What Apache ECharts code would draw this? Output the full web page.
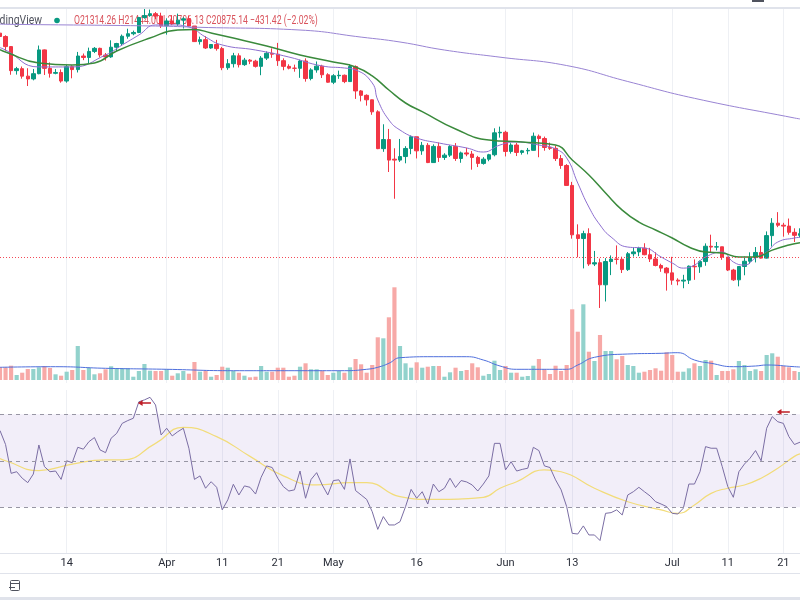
<!DOCTYPE html>
<html>
<head>
<meta charset="utf-8">
<title>BTC daily</title>
<script src="https://cdn.jsdelivr.net/npm/echarts/dist/echarts.min.js"></script>
<style>
  html, body { margin: 0; padding: 0; background: #fff; }
  #chart { width: 800px; height: 600px; }
</style>
</head>
<body>
<div id="chart"></div>
<script>
  // daily candles, 2 Mar 2022 .. 24 Jul 2022
  const firstDay = [2022, 2, 2];

  const opens = [
    44420, 43920, 42450, 39140, 39400, 38420, 38060, 38740, 41980, 39440, 38790, 38900, 37790, 39670, 39280, 41120, 40920, 41760, 42200, 41260, 41000, 42360, 42890, 43960, 44330, 44520, 46820, 47130, 47430, 47060,
    45540, 46280, 45810, 46410, 46620, 45500, 43170, 43450, 42250, 42750, 42160, 39530, 40070, 41150, 39940, 40550, 40410, 39710, 40830, 41500, 41370, 40480, 39710, 39470, 39450, 40430, 38110, 39240, 39740, 38600,
    37640, 38470, 38530, 37720, 39690, 36550, 36010, 35470, 34060, 30080, 31020, 29030, 28940, 29290, 30100, 31310, 29860, 30420, 28700, 30310, 29200, 29430, 30300, 29100, 29650, 29540, 29200, 28620, 29030, 29470, 31730,
    31790, 29800, 30450, 29700, 29860, 29910, 31370, 31130, 30200, 30110, 29090, 28420, 26570, 22490, 22210, 22580, 20380, 20470, 19000, 20550, 20720, 20710, 20000, 21100, 21230, 21500, 21030, 20730, 20280, 20100,
    19780, 19300, 19240, 19300, 20230, 20190, 20550, 21640, 21580, 21600, 20860, 19970, 19320, 20210, 20570, 20830, 21190, 20790, 22430, 23390, 23230, 23160, 22680, 22450
  ];
  const highs = [
    45380, 44100, 42520, 39640, 39690, 39460, 39360, 42600, 42040, 40240, 39360, 39300, 39900, 39860, 41690, 41470, 42300, 42380, 42290, 41540, 43360, 42990, 44210, 45090, 44800, 46930, 48190, 48100, 47700, 47590,
    46700, 47200, 47440, 46880, 47150, 45500, 43900, 43960, 42800, 43420, 42410, 40690, 41560, 41500, 40860, 40700, 40600, 41110, 41760, 42190, 42980, 40800, 39990, 39940, 40620, 40800, 39460, 40370, 39920, 38800,
    38680, 39140, 38630, 40000, 39840, 36650, 36130, 35500, 34240, 32660, 32150, 30120, 31080, 30330, 31450, 31310, 30770, 30650, 30520, 30710, 29620, 30440, 30650, 29780, 30170, 29850, 29360, 29230, 29560, 32220, 32400,
    31950, 30640, 30670, 29950, 30150, 31760, 31550, 31330, 30700, 30390, 29440, 28550, 26890, 23300, 22800, 22990, 21300, 20760, 20790, 20980, 21700, 20890, 21220, 21520, 21600, 21860, 21520, 21200, 20400, 20170,
    20880, 19420, 19650, 20280, 20700, 20630, 21850, 22500, 21950, 21600, 20870, 20050, 20230, 20890, 21200, 21580, 21660, 22750, 23790, 24280, 23420, 23760, 22990, 22990
  ];
  const lows = [
    43330, 41860, 38600, 38620, 38090, 37160, 37880, 38660, 38570, 38230, 38660, 37580, 37580, 38140, 38900, 40550, 40150, 41530, 40920, 40500, 40870, 41790, 42560, 43590, 44100, 44420, 46640, 46950, 46560, 45200,
    44200, 45640, 45530, 45120, 45360, 43120, 42740, 42110, 42130, 41870, 39200, 39250, 39560, 39560, 39770, 40010, 39550, 38540, 40570, 40870, 39770, 39190, 39310, 39000, 38200, 37710, 37880, 38870, 38180, 37580,
    37400, 38070, 37520, 37670, 35580, 35280, 34780, 33720, 30030, 29760, 27800, 25400, 28760, 28630, 29520, 29100, 29460, 28650, 28680, 28760, 28960, 29250, 28860, 28680, 29320, 28020, 28270, 28500, 28830, 29310, 31220,
    29300, 29580, 29340, 29480, 29510, 29880, 29220, 29870, 29950, 28850, 28100, 26560, 22200, 20850, 20080, 20250, 20240, 17570, 17960, 19630, 20350, 19770, 19910, 20900, 20930, 20990, 20520, 20220, 19850, 18630,
    19000, 18970, 18780, 19050, 19320, 19780, 20260, 21200, 21330, 20670, 19900, 19250, 18900, 19620, 20390, 20490, 20760, 20760, 21620, 23080, 22350, 22500, 21950, 22290
  ];
  const closes = [
    43920, 42450, 39140, 39400, 38420, 38060, 38740, 41980, 39440, 38790, 38900, 37790, 39670, 39280, 41120, 40920, 41760, 42200, 41260, 41000, 42360, 42890, 43960, 44330, 44520, 46820, 47130, 47430, 47060, 45540,
    46280, 45810, 46410, 46620, 45500, 43170, 43450, 42250, 42750, 42160, 39530, 40070, 41150, 39940, 40550, 40410, 39710, 40830, 41500, 41370, 40480, 39710, 39470, 39450, 40430, 38110, 39240, 39740, 38600, 37640,
    38470, 38530, 37720, 39690, 36550, 36010, 35470, 34060, 30080, 31020, 28940, 28940, 29290, 30100, 31310, 29860, 30420, 28700, 30310, 29200, 29430, 30300, 29100, 29650, 29540, 29200, 28620, 29030, 29470, 31730, 31790,
    29800, 30450, 29700, 29860, 29910, 31370, 31130, 30200, 30110, 29090, 28420, 26570, 22490, 22210, 22580, 20380, 20470, 19000, 20550, 20720, 20710, 20000, 21100, 21230, 21500, 21030, 20730, 20280, 20100, 19780,
    19300, 19240, 19300, 20230, 20190, 20550, 21640, 21580, 21600, 20860, 19970, 19320, 20210, 20570, 20830, 21190, 20790, 22430, 23390, 23230, 23160, 22680, 22450, 22580
  ];
  const volumes = [
    13, 12.7, 14.3, 5, 7.3, 11, 11, 12.7, 14, 12, 5.7, 4.3, 8.3, 10, 34, 10, 12.3, 5.7, 6.7, 10.7, 13.7, 12, 12, 11.7, 3.3, 9, 16, 9.3, 9, 9,
    10.7, 4.3, 6.7, 9, 6.3, 18, 8.3, 9.3, 3.3, 5, 13.3, 12.3, 9, 7.3, 4.3, 2.7, 3.3, 14, 8.3, 8.3, 12.3, 12.3, 3.3, 4.3, 13.3, 16.7, 10.7, 10.7, 9.3, 5,
    7.3, 9, 7.3, 12.7, 21, 15.7, 7.3, 15, 42.7, 41.7, 62.7, 92.7, 34, 16.7, 12.3, 17.7, 12.3, 13.3, 14, 14, 3.3, 7.7, 12.3, 9, 10, 16.7, 12.7, 4.3, 6, 19.3, 10,
    14, 7.3, 7.3, 3.3, 4, 14.3, 21, 10.7, 6, 14.3, 9, 15, 70.7, 48.3, 75.7, 28.3, 19, 45, 29, 29, 20.7, 24, 15, 14, 7.3, 8.3, 10, 11.7, 9.3, 27.7,
    25, 8.3, 8.3, 11.7, 16.7, 14, 20, 19.3, 5, 9, 9, 10.7, 19, 15, 9, 10.7, 9, 25, 26.7, 23.3, 14, 12.7, 9, 8
  ];
  const rsi = [
    63, 57, 44.6, 45.3, 42.5, 40.6, 44.3, 56.8, 47.5, 45.3, 45.6, 42, 50, 49.2, 55.8, 55, 58.2, 60, 54.7, 53.5, 59.7, 61.8, 66.1, 67.3, 68.3, 75.4, 76.2, 77.3, 74, 61.1,
    64, 60.7, 62.5, 64, 55.4, 42, 43.5, 38.2, 41, 38.6, 28.9, 33.2, 39.9, 35.3, 39.2, 38.6, 35.7, 42.9, 47.8, 47.1, 42.5, 38.9, 37, 37.5, 45.6, 33.9, 42, 44.9, 39.6, 35.3,
    41.5, 41.8, 37.7, 50.8, 37.2, 35.3, 33.4, 28.1, 20.5, 26, 22.4, 22.4, 23.8, 30.3, 37.7, 33.9, 36.7, 31.4, 40, 36.7, 38.2, 42.5, 38.5, 41.5, 40.9, 39.6, 37, 40, 43.5, 57.5, 57.5,
    46.1, 49.6, 45.6, 46.3, 46.8, 55.8, 54.4, 47.8, 47.1, 41.8, 37.5, 30.3, 18.8, 18.5, 22, 18.1, 18.1, 15.7, 27.4, 27.7, 28.9, 26.7, 35.3, 36.7, 38.6, 36.7, 34.9, 32.4, 31.4, 30.3,
    27.4, 27.1, 29.6, 40, 40, 45.3, 56.1, 55.4, 55.4, 47.5, 38.9, 34.3, 45.3, 48.6, 51.1, 54.4, 50, 64, 69, 66.8, 66.1, 60.4, 57, 58
  ];

  // indicator lines at a few dates
  const maFast = [
    ['2022-03-02', 42300], ['2022-03-03', 41960], ['2022-03-09', 39630], ['2022-03-15', 39630], ['2022-03-21', 41260],
    ['2022-03-24', 42680], ['2022-03-27', 44140], ['2022-03-30', 45660], ['2022-04-02', 45660], ['2022-04-05', 45350],
    ['2022-04-08', 43840], ['2022-04-11', 42680], ['2022-04-17', 41960], ['2022-04-23', 40980], ['2022-04-29', 39760],
    ['2022-05-03', 39490], ['2022-05-05', 39230], ['2022-05-08', 37550], ['2022-05-09', 35450], ['2022-05-11', 33140],
    ['2022-05-13', 32030], ['2022-05-16', 31180], ['2022-05-20', 30660], ['2022-05-25', 30150], ['2022-05-28', 29740],
    ['2022-05-31', 30450], ['2022-06-03', 30760], ['2022-06-07', 30450], ['2022-06-10', 30050], ['2022-06-12', 29150],
    ['2022-06-14', 26780], ['2022-06-16', 24700], ['2022-06-18', 23250], ['2022-06-20', 22320], ['2022-06-23', 21580],
    ['2022-06-26', 21510], ['2022-06-29', 20870], ['2022-07-01', 20450], ['2022-07-03', 20100], ['2022-07-05', 20310],
    ['2022-07-07', 20870], ['2022-07-10', 21220], ['2022-07-12', 20520], ['2022-07-14', 20310], ['2022-07-16', 20800],
    ['2022-07-18', 21220], ['2022-07-20', 21950], ['2022-07-23', 22250], ['2022-07-24', 22300]
  ];
  const maSlow = [
    ['2022-03-02', 42000], ['2022-03-03', 41680], ['2022-03-09', 40160], ['2022-03-15', 39890], ['2022-03-19', 40160],
    ['2022-03-23', 41820], ['2022-03-29', 43690], ['2022-04-03', 44900], ['2022-04-06', 44970], ['2022-04-09', 44440],
    ['2022-04-13', 43690], ['2022-04-19', 42530], ['2022-04-25', 41260], ['2022-05-01', 40300], ['2022-05-05', 39630],
    ['2022-05-08', 38450], ['2022-05-11', 36660], ['2022-05-14', 35090], ['2022-05-17', 34080], ['2022-05-23', 32140],
    ['2022-05-29', 30970], ['2022-06-04', 30760], ['2022-06-10', 30450], ['2022-06-13', 28950], ['2022-06-16', 27520],
    ['2022-06-19', 25900], ['2022-06-22', 24450], ['2022-06-25', 23480], ['2022-06-28', 22860], ['2022-07-01', 22250],
    ['2022-07-04', 21580], ['2022-07-07', 21220], ['2022-07-10', 21150], ['2022-07-13', 20870], ['2022-07-16', 20870],
    ['2022-07-19', 21360], ['2022-07-22', 21730], ['2022-07-24', 21900]
  ];
  const ma200 = [
    ['2022-03-02', 45800], ['2022-03-03', 45770], ['2022-03-30', 45500], ['2022-04-07', 45300], ['2022-04-25', 44890],
    ['2022-05-06', 43830], ['2022-05-13', 43110], ['2022-05-21', 41960], ['2022-05-31', 40960], ['2022-06-12', 39820],
    ['2022-06-23', 37730], ['2022-07-05', 35650], ['2022-07-23', 33360], ['2022-07-24', 33250]
  ];
  const volMa = [
    ['2022-03-02', 12.7], ['2022-03-12', 13.3], ['2022-03-21', 11.7], ['2022-04-01', 10.7], ['2022-04-13', 9.3],
    ['2022-04-25', 9.3], ['2022-05-03', 9.3], ['2022-05-07', 10.7], ['2022-05-09', 12.7], ['2022-05-11', 16.7],
    ['2022-05-13', 22.3], ['2022-05-19', 23.3], ['2022-05-25', 23.3], ['2022-05-28', 20], ['2022-05-31', 14],
    ['2022-06-03', 10.7], ['2022-06-12', 10.7], ['2022-06-14', 15], ['2022-06-17', 22.7], ['2022-06-23', 26],
    ['2022-06-29', 26.7], ['2022-07-02', 27.3], ['2022-07-05', 20], ['2022-07-08', 16.7], ['2022-07-12', 13.3],
    ['2022-07-16', 14], ['2022-07-18', 15], ['2022-07-23', 13.3], ['2022-07-24', 13]
  ];
  const rsiMa = [
    ['2022-03-02', 51], ['2022-03-03', 50], ['2022-03-09', 45.8], ['2022-03-15', 48.6], ['2022-03-21', 50.4],
    ['2022-03-24', 50.4], ['2022-03-30', 57.5], ['2022-04-04', 64.4], ['2022-04-10', 60.4], ['2022-04-16', 51.9],
    ['2022-04-22', 43.5], ['2022-04-28', 39.6], ['2022-05-04', 40.6], ['2022-05-07', 40.6], ['2022-05-13', 34.6],
    ['2022-05-19', 33.4], ['2022-05-28', 34.3], ['2022-05-31', 38.2], ['2022-06-03', 41], ['2022-06-08', 46.1],
    ['2022-06-11', 45.3], ['2022-06-17', 38.2], ['2022-06-23', 32.4], ['2022-06-29', 28.9], ['2022-07-02', 27.4],
    ['2022-07-05', 31], ['2022-07-08', 36], ['2022-07-11', 38.2], ['2022-07-14', 39.6], ['2022-07-17', 42.5],
    ['2022-07-20', 46.8], ['2022-07-23', 51.9], ['2022-07-24', 53]
  ];

  const tickDates = ['2022-03-14', '2022-04-01', '2022-04-11', '2022-04-21', '2022-05-01', '2022-05-16', '2022-06-01', '2022-06-13', '2022-07-01', '2022-07-11', '2022-07-21'];
  const tickLabels = ['14', 'Apr', '11', '21', 'May', '16', 'Jun', '13', 'Jul', '11', '21'];
  const rsiLevels = [70, 50, 30];
  const rsiMarks = [['2022-03-28', 74.9], ['2022-07-21', 71]];
  const lastClose = 20875.14;
  const legendValues = 'O21314.26 H21444.00 L20706.13 C20875.14 \u2212431.42 (\u22122.02%)';

  function pad(n) { return n < 10 ? '0' + n : '' + n; }
  const dates = opens.map((_, i) => {
    let d = new Date(Date.UTC(firstDay[0], firstDay[1], firstDay[2] + i));
    return d.getUTCFullYear() + '-' + pad(d.getUTCMonth() + 1) + '-' + pad(d.getUTCDate());
  });

  const upColor = '#089981';
  const downColor = '#f23645';
  const isTick = (idx, val) => tickDates.indexOf(val) >= 0;

  function xAxisFor(gi, withLabels) {
    return {
      type: 'category', gridIndex: gi, data: dates, boundaryGap: false,
      axisTick: { show: false },
      axisLine: { show: withLabels, lineStyle: { color: '#e0e3eb' } },
      axisLabel: {
        show: withLabels, interval: isTick, margin: 5,
        formatter: v => tickLabels[tickDates.indexOf(v)],
        color: '#2a2e39', fontSize: 11, fontFamily: 'Roboto'
      },
      splitLine: { show: gi !== 1, interval: isTick, lineStyle: { color: '#eef0f4', width: 1 } }
    };
  }

  let candles = dates.map((d, i) => [opens[i], closes[i], lows[i], highs[i]]);
  let volBars = volumes.map((v, i) => ({
    value: v,
    itemStyle: { color: closes[i] >= opens[i] ? '#92d2cc' : '#f7a9a7' }
  }));

  let myChart = echarts.init(document.getElementById('chart'));
  myChart.setOption({
    animation: false,
    grid: [
      { left: -5.2, right: -7, top: 8, height: 375 },
      { left: -5.2, right: -7, top: 280, height: 100 },
      { left: -5.2, right: -7, top: 390, height: 163 }
    ],
    xAxis: [xAxisFor(0, false), xAxisFor(1, false), xAxisFor(2, true)],
    yAxis: [
      { type: 'log', gridIndex: 0, min: 13640, max: 48353, show: false },
      { type: 'value', gridIndex: 1, min: 0, max: 100, show: false },
      { type: 'value', gridIndex: 2, min: 10.34, max: 80.45, show: false }
    ],
    series: [
      {
        name: 'volume', type: 'bar', xAxisIndex: 1, yAxisIndex: 1,
        data: volBars, barWidth: '75%', z: 1
      },
      {
        name: 'volume MA', type: 'line', xAxisIndex: 1, yAxisIndex: 1,
        data: volMa, smooth: true, showSymbol: false, z: 1,
        lineStyle: { color: '#4f6fdc', width: 1 }
      },
      {
        name: 'BTC', type: 'candlestick', xAxisIndex: 0, yAxisIndex: 0,
        data: candles, barWidth: '72%',
        itemStyle: { color: upColor, color0: downColor, borderColor: upColor, borderColor0: downColor, borderWidth: 1 },
        markLine: {
          silent: true, symbol: ['none', 'none'], label: { show: false },
          lineStyle: { color: downColor, type: [1, 2], width: 1, opacity: 0.9 },
          data: [{ yAxis: lastClose }]
        }
      },
      {
        name: 'MA fast', type: 'line', xAxisIndex: 0, yAxisIndex: 0,
        data: maFast, smooth: true, showSymbol: false,
        lineStyle: { color: '#8d6fcf', width: 1 }
      },
      {
        name: 'MA slow', type: 'line', xAxisIndex: 0, yAxisIndex: 0,
        data: maSlow, smooth: true, showSymbol: false,
        lineStyle: { color: '#3a8a3c', width: 1.5 }
      },
      {
        name: 'MA 200', type: 'line', xAxisIndex: 0, yAxisIndex: 0,
        data: ma200, smooth: true, showSymbol: false,
        lineStyle: { color: '#9984d3', width: 1 }
      },
      {
        name: 'RSI MA', type: 'line', xAxisIndex: 2, yAxisIndex: 2,
        data: rsiMa, smooth: true, showSymbol: false,
        lineStyle: { color: '#f2dc7a', width: 1.2 }
      },
      {
        name: 'RSI', type: 'line', xAxisIndex: 2, yAxisIndex: 2,
        data: rsi, showSymbol: false,
        lineStyle: { color: '#7a6da3', width: 1 },
        markArea: {
          silent: true,
          itemStyle: { color: 'rgba(126, 87, 194, 0.1)' },
          data: [[{ yAxis: rsiLevels[2] }, { yAxis: rsiLevels[0] }]]
        },
        markLine: {
          silent: true, symbol: ['none', 'none'], label: { show: false },
          lineStyle: { color: '#9896a4', type: [4, 4], width: 1 },
          data: rsiLevels.map(v => ({ yAxis: v }))
        },
        markPoint: {
          silent: true,
          symbol: 'path://M0,4L5,0L5,3L14,3L14,5L5,5L5,8Z',
          symbolSize: [13, 6], symbolKeepAspect: false,
          itemStyle: { color: '#bf1d26' },
          label: { show: false },
          data: rsiMarks.map(m => ({ coord: m }))
        }
      }
    ],
    graphic: [
      { type: 'rect', shape: { x: 0, y: 7, width: 800, height: 2 }, style: { fill: '#e0e3eb' }, z: 1 },
      { type: 'rect', shape: { x: 752, y: 0, width: 12, height: 2 }, style: { fill: '#50535e' }, z: 1 },
      {
        type: 'text', x: 42, y: 21, scaleX: 0.8, z: 1,
        style: { text: 'TradingView', fill: '#50535e', font: '13px Roboto', align: 'right', verticalAlign: 'middle', textAlign: 'right', textVerticalAlign: 'middle' }
      },
      { type: 'circle', shape: { cx: 57, cy: 20.5, r: 2.8 }, style: { fill: upColor }, z: 1 },
      {
        type: 'text', x: 74, y: 21, scaleX: 0.72, z: 1,
        style: { text: legendValues, fill: '#d9535c', font: '12px Roboto', align: 'left', verticalAlign: 'middle', textAlign: 'left', textVerticalAlign: 'middle' }
      },
      { type: 'rect', shape: { x: 0, y: 573, width: 800, height: 1 }, style: { fill: '#e0e3eb' }, z: 1 },
      { type: 'rect', shape: { x: 10.5, y: 580.5, width: 9, height: 10, r: 1 }, style: { fill: 'none', stroke: '#50535e', lineWidth: 1 }, z: 1 },
      { type: 'line', shape: { x1: 10.5, y1: 583.5, x2: 19.5, y2: 583.5 }, style: { stroke: '#50535e', lineWidth: 1 }, z: 1 },
      { type: 'line', shape: { x1: 9, y1: 587.5, x2: 15, y2: 587.5 }, style: { stroke: '#50535e', lineWidth: 1 }, z: 1 },
      { type: 'rect', shape: { x: 0, y: 597, width: 800, height: 3 }, style: { fill: '#e0e3eb' }, z: 1 }
    ]
  });
</script>
</body>
</html>
